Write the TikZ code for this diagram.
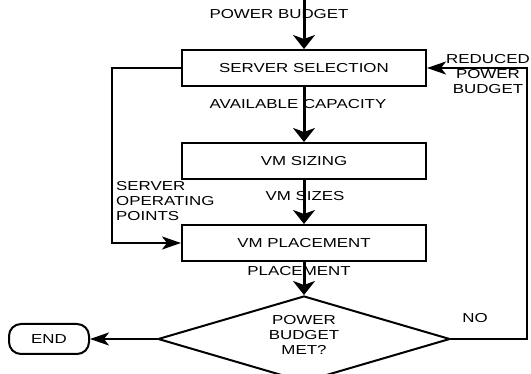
\documentclass[tikz,border=0pt]{standalone}
\usepackage{fontspec}
\newfontfamily\lblfont[FakeStretch=1.3]{Liberation Sans}
\usetikzlibrary{
  arrows.meta,
  positioning,
  shapes.geometric,
}

\begin{document}
\begin{tikzpicture}[
    x=1pt, y=1pt,
    font=\lblfont\fontsize{13}{15}\selectfont,
    proc/.style={rectangle, draw, line width=2pt, minimum width=244pt, minimum height=36pt},
    dec/.style={diamond, draw, line width=2pt, aspect=3.4, minimum width=292pt, minimum height=86pt, inner sep=0pt},
    term/.style={rectangle, rounded corners=12pt, draw, line width=2pt, minimum width=80pt, minimum height=30pt},
    lbl/.style={inner sep=0pt, align=center},
    flow/.style={line width=3pt, -{Stealth[length=14pt,width=22pt,inset=4pt]}},
    back/.style={line width=2pt, -{Stealth[length=19pt,width=13pt,inset=5pt]}},
  ]
  \useasboundingbox (0,0) rectangle (531,-374);

  % main chain
  \node[proc] (sel) at (304,-68) {SERVER SELECTION};
  \node[proc, below=55pt of sel] (size) {VM SIZING};
  \node[proc, below=44pt of size] (place) {VM PLACEMENT};
  \node[dec, below=33pt of place] (chk) {};
  \node[term, left=67pt of chk] (end) {END};

  % labels on the flows
  \node[lbl] (met) at ([yshift=4pt]chk.center) {POWER\\BUDGET\\MET?};
  \node[lbl] (pb) at (279,-14) {POWER BUDGET};
  \node[lbl] (cap) at (298,-104) {AVAILABLE CAPACITY};
  \node[lbl] (szs) at (305,-196) {VM SIZES};
  \node[lbl, anchor=north west, align=left] (pts) at (116,-181) {SERVER\\OPERATING\\POINTS};
  \node[lbl] (plc) at (299,-271) {PLACEMENT};
  \node[lbl] (red) at (488,-74) {REDUCED\\POWER\\BUDGET};
  \node[lbl] (no) at (475,-318) {NO};

  \coordinate (src) at (sel.north |- 0,0);

  \draw[flow] (src) -- (sel);
  \draw[flow] (sel) -- (size);
  \draw[flow] (size) -- (place);
  \draw[flow] (place) -- (chk);
  \draw[back] (chk.west) -- (end.east);
  \draw[back] (sel.west) -- ++(-69,0) |- (place.west);
  \draw[back] (chk.east) -- ++(76,0) |- (sel.east);
\end{tikzpicture}
\end{document}
